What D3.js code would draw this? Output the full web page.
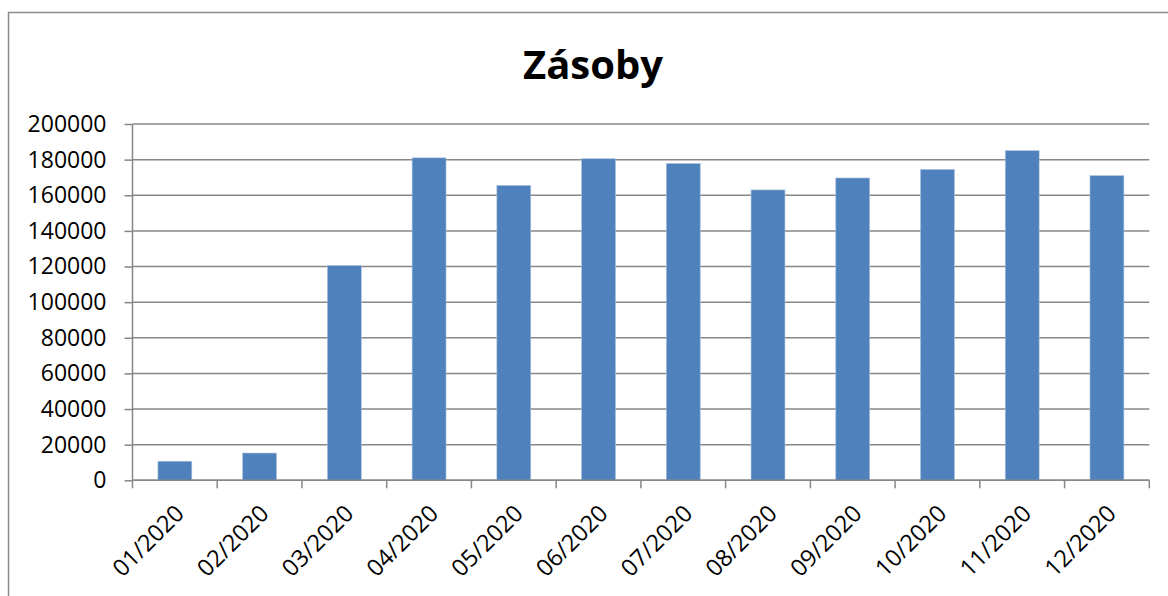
<!DOCTYPE html>
<html><head><meta charset="utf-8">
<script src="https://cdn.jsdelivr.net/npm/d3@7"></script>
<style>
html,body{margin:0;padding:0;background:#fff;}
svg{display:block;}
text{font-family:"Open Sans",sans-serif;fill:#000;}
</style></head>
<body><svg id="c" width="1168" height="596"></svg>
<script>
const categories = ["01/2020","02/2020","03/2020","04/2020","05/2020","06/2020","07/2020","08/2020","09/2020","10/2020","11/2020","12/2020"];
const values = [10700,15300,120500,181000,165500,180500,177800,163000,169700,174500,185000,171000];
const yTicks = [0,20000,40000,60000,80000,100000,120000,140000,160000,180000,200000];
const title = "Zásoby";

(function(){
const svg = d3.select("#c");
// outer chart border
svg.append("rect").attr("x",8.5).attr("y",12.5).attr("width",1180).attr("height",600)
  .attr("fill","none").attr("stroke","#8a8a8a").attr("stroke-width",1.5);

const pL=132.5, pR=1149.3, pT=124, pB=480.3;
const x = d3.scaleBand().domain(categories).range([pL,pR]).paddingInner(0.6).paddingOuter(0.3);
const y = d3.scaleLinear().domain([0,200000]).range([pB,pT]);

// gridlines
svg.append("g").selectAll("line").data(yTicks).join("line")
  .attr("x1",pL).attr("x2",pR).attr("y1",d=>y(d)).attr("y2",d=>y(d))
  .attr("stroke","#878787").attr("stroke-width",1.5);
// y axis
const yAxis = d3.axisLeft(y).tickValues(yTicks).tickSize(8).tickPadding(18).tickFormat(d3.format("d"));
const gy = svg.append("g").attr("transform",`translate(${pL},0)`).call(yAxis);
gy.select(".domain").remove();
gy.selectAll(".tick line").attr("stroke","#878787").attr("stroke-width",1.5);
gy.selectAll(".tick text").attr("font-size",23).attr("font-family","Open Sans").attr("fill","#000");

// bars
svg.append("g").selectAll("rect").data(values).join("rect")
  .attr("x",(d,i)=>x(categories[i])).attr("width",x.bandwidth())
  .attr("y",d=>y(d)).attr("height",d=>y(0)-y(d))
  .attr("fill","#4F81BD").attr("stroke","#a9c0de").attr("stroke-width",0.6);

// y axis line
svg.append("line").attr("x1",pL).attr("x2",pL).attr("y1",pT).attr("y2",pB)
  .attr("stroke","#878787").attr("stroke-width",1.5);
// x axis line
svg.append("line").attr("x1",pL).attr("x2",pR).attr("y1",pB).attr("y2",pB)
  .attr("stroke","#878787").attr("stroke-width",1.5);
// x tick marks at category boundaries
const bounds = categories.map(c=>x(c)-x.step()*0.3).concat([pR]);
svg.append("g").selectAll("line").data(bounds).join("line")
  .attr("x1",d=>d).attr("x2",d=>d).attr("y1",pB).attr("y2",pB+8)
  .attr("stroke","#878787").attr("stroke-width",1.5);

// x labels
svg.append("g").selectAll("text").data(categories).join("text")
  .attr("transform",d=>`translate(${x(d)+x.bandwidth()/2-1},${pB+23}) rotate(-45)`)
  .attr("text-anchor","end").attr("dy","0.7em").attr("font-size",23.5).text(d=>d);

// title
svg.append("text").attr("x",593).attr("y",79).attr("text-anchor","middle")
  .attr("font-size",40).attr("font-weight","bold").text(title);
})();
</script></body></html>
